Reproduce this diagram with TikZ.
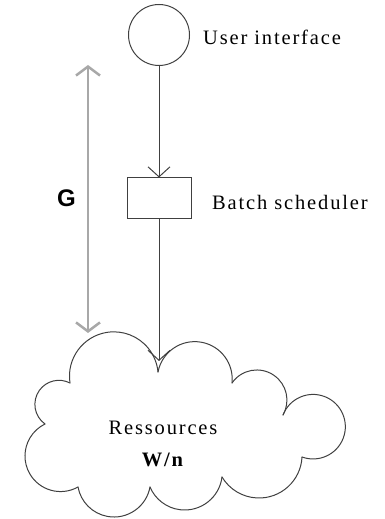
\documentclass[tikz,border=0pt]{standalone}
\usepackage{fontspec}
\setmainfont{Liberation Serif}[LetterSpace=9]
\newfontfamily\gfont{Liberation Sans}
\usetikzlibrary{arrows.meta}
\definecolor{linegray}{gray}{0.25}
\definecolor{ggray}{gray}{0.66}
\tikzset{
  conn/.style={draw=linegray, line width=1pt, -{Straight Barb[length=10pt,width=22pt]}},
  garrow/.style={draw=ggray, line width=2.5pt, {Straight Barb[length=9pt,width=24pt]}-{Straight Barb[length=9pt,width=24pt]}},
  lbl/.style={inner sep=0pt, font=\fontsize{20.5}{24}\selectfont},
  cloudline/.style={draw=linegray, line width=1pt, line cap=round},
  shapeline/.style={draw=linegray, line width=1pt}
}
% one bump of the cloud: circle arc from A to B through P (pixel coords, y down)
\newcommand{\cloudbump}[6]{%
  \pgfmathsetmacro{\cbBx}{(#3-#1)/10}%
  \pgfmathsetmacro{\cbBy}{(#2-#4)/10}%
  \pgfmathsetmacro{\cbCx}{(#5-#1)/10}%
  \pgfmathsetmacro{\cbCy}{(#2-#6)/10}%
  \pgfmathsetmacro{\cbD}{2*((\cbBx)*(\cbCy)-(\cbBy)*(\cbCx))}%
  \pgfmathsetmacro{\cbB}{(\cbBx)*(\cbBx)+(\cbBy)*(\cbBy)}%
  \pgfmathsetmacro{\cbC}{(\cbCx)*(\cbCx)+(\cbCy)*(\cbCy)}%
  \pgfmathsetmacro{\cbUx}{((\cbB)*(\cbCy)-(\cbC)*(\cbBy))/(\cbD)}%
  \pgfmathsetmacro{\cbUy}{((\cbC)*(\cbBx)-(\cbB)*(\cbCx))/(\cbD)}%
  \pgfmathsetmacro{\cbR}{10*sqrt((\cbUx)*(\cbUx)+(\cbUy)*(\cbUy))}%
  \pgfmathsetmacro{\cbSa}{atan2(-1*(\cbUy),-1*(\cbUx))}%
  \pgfmathsetmacro{\cbEa}{atan2((\cbBy)-(\cbUy),(\cbBx)-(\cbUx))}%
  \pgfmathsetmacro{\cbEa}{(\cbEa)>(\cbSa) ? (\cbEa)-360 : (\cbEa)}%
  \draw[cloudline] (#1,{519-#2}) arc[start angle=\cbSa, end angle=\cbEa, radius=\cbR];%
}
\begin{document}
\begin{tikzpicture}[x=1pt,y=1pt]
\useasboundingbox (0,0) rectangle (385,519);

% nodes
\node[circle, shapeline, minimum size=61pt, inner sep=0pt] (ui) at (159,484) {};
\node[rectangle, shapeline, minimum width=64pt, minimum height=41pt, inner sep=0pt] (bs) at (159,320.5) {};
\coordinate (cloudtop) at (159,158);
\coordinate (gtop) at (88,454);
\coordinate (gbot) at (88,186);

% cloud
\cloudbump{70}{383}{158}{372}{110}{332}
\cloudbump{158}{372}{232}{383}{200}{342}
\cloudbump{232}{383}{283}{415}{258}{370}
\cloudbump{283}{415}{302}{457}{345}{422}
\cloudbump{302}{457}{222}{477}{260}{498}
\cloudbump{222}{477}{150}{487}{185}{510}
\cloudbump{150}{487}{78}{487}{113}{517}
\cloudbump{78}{487}{45}{424}{25}{455}
\cloudbump{45}{424}{70}{383}{35}{402}

% connectors
\draw[conn] (ui) -- (bs);
\draw[conn] (bs) -- (cloudtop);
\draw[garrow] (gtop) -- (gbot);

% labels
\node[lbl, anchor=base west] (uitext) at (203,474) {User interface};
\node[lbl, anchor=base west] (bstext) at (212,309) {Batch scheduler};
\node[inner sep=0pt, anchor=base west, font=\gfont\fontsize{24}{28}\selectfont\bfseries] (glabel) at (57,312) {G};
\node[lbl, anchor=base] (restext) at (163,84) {Ressources};
\node[lbl, anchor=base, font=\fontsize{20.5}{24}\selectfont\bfseries] (wntext) at (162.5,52) {W/n};
\end{tikzpicture}
\end{document}
